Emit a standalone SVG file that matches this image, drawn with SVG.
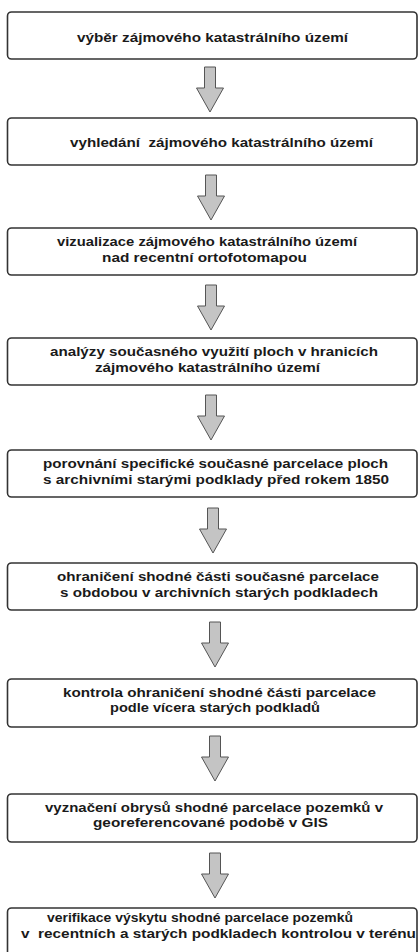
<svg xmlns="http://www.w3.org/2000/svg" xmlns:xlink="http://www.w3.org/1999/xlink" width="418" height="952" viewBox="0 0 418 952">
<style>
.box{fill:#fff;stroke:#333;stroke-width:1.6}
.t{font-family:"Liberation Sans",Arial,sans-serif;font-weight:bold;font-size:13.5px;fill:#1a1a1a;text-anchor:middle}
.ts{text-anchor:start}
.arr{fill:#c4c4c4;stroke:#555;stroke-width:1}
</style>
<defs>
<path id="arrow" class="arr" d="M-5.5,0 H5.5 V21 H13.5 L0,45 L-13.5,21 H-5.5 Z"/>
</defs>
<rect width="418" height="952" fill="#fff"/>
<g id="connectors">
<use xlink:href="#arrow" x="210" y="67"/>
<use xlink:href="#arrow" x="211" y="175"/>
<use xlink:href="#arrow" x="211" y="285"/>
<use xlink:href="#arrow" x="211" y="395"/>
<use xlink:href="#arrow" x="213" y="508"/>
<use xlink:href="#arrow" x="215" y="622"/>
<use xlink:href="#arrow" x="215" y="736"/>
<use xlink:href="#arrow" x="215" y="853"/>
</g>
<g id="n1"><rect class="box" x="7.5" y="12" width="409.5" height="47" rx="4"/>
<text class="t" x="212.5" y="41.5" textLength="271" lengthAdjust="spacingAndGlyphs">výběr zájmového katastrálního území</text></g>
<g id="n2"><rect class="box" x="7.5" y="118" width="409.5" height="47" rx="4"/>
<text class="t" x="221.5" y="146.5" textLength="303" lengthAdjust="spacingAndGlyphs" xml:space="preserve">vyhledání  zájmového katastrálního území</text></g>
<g id="n3"><rect class="box" x="7.5" y="228" width="409.5" height="47" rx="4"/>
<text class="t" x="207" y="246" textLength="300" lengthAdjust="spacingAndGlyphs">vizualizace zájmového katastrálního území</text>
<text class="t" x="204.5" y="261.5" textLength="205" lengthAdjust="spacingAndGlyphs">nad recentní ortofotomapou</text></g>
<g id="n4"><rect class="box" x="7.5" y="338" width="409.5" height="47" rx="4"/>
<text class="t" x="214" y="356" textLength="328" lengthAdjust="spacingAndGlyphs">analýzy současného využití ploch v hranicích</text>
<text class="t" x="207.5" y="371.5" textLength="225" lengthAdjust="spacingAndGlyphs">zájmového katastrálního území</text></g>
<g id="n5"><rect class="box" x="7.5" y="450" width="409.5" height="47" rx="4"/>
<text class="t" x="215.5" y="468" textLength="345" lengthAdjust="spacingAndGlyphs">porovnání specifické současné parcelace ploch</text>
<text class="t" x="216" y="483.5" textLength="346" lengthAdjust="spacingAndGlyphs">s archivními starými podklady před rokem 1850</text></g>
<g id="n6"><rect class="box" x="7.5" y="563" width="409.5" height="47" rx="4"/>
<text class="t" x="218" y="581" textLength="322" lengthAdjust="spacingAndGlyphs">ohraničení shodné části současné parcelace</text>
<text class="t" x="219" y="596.5" textLength="318" lengthAdjust="spacingAndGlyphs">s obdobou v archivních starých podkladech</text></g>
<g id="n7"><rect class="box" x="7.5" y="679" width="409.5" height="48" rx="4"/>
<text class="t" x="219.5" y="696.5" textLength="313" lengthAdjust="spacingAndGlyphs">kontrola ohraničení shodné části parcelace</text>
<text class="t" x="215" y="712" textLength="210" lengthAdjust="spacingAndGlyphs">podle vícera starých podkladů</text></g>
<g id="n8"><rect class="box" x="7.5" y="794" width="409.5" height="48" rx="4"/>
<text class="t" x="214" y="811.5" textLength="338" lengthAdjust="spacingAndGlyphs">vyznačení obrysů shodné parcelace pozemků v</text>
<text class="t" x="210.5" y="827" textLength="235" lengthAdjust="spacingAndGlyphs">georeferencované podobě v GIS</text></g>
<g id="n9"><rect class="box" x="7.5" y="908" width="409.5" height="60" rx="4"/>
<text class="t" x="200" y="922" textLength="306" lengthAdjust="spacingAndGlyphs">verifikace výskytu shodné parcelace pozemků</text>
<text class="t ts" x="21" y="937.5" textLength="395" lengthAdjust="spacingAndGlyphs" xml:space="preserve">v  recentních a starých podkladech kontrolou v terénu</text></g>
</svg>
